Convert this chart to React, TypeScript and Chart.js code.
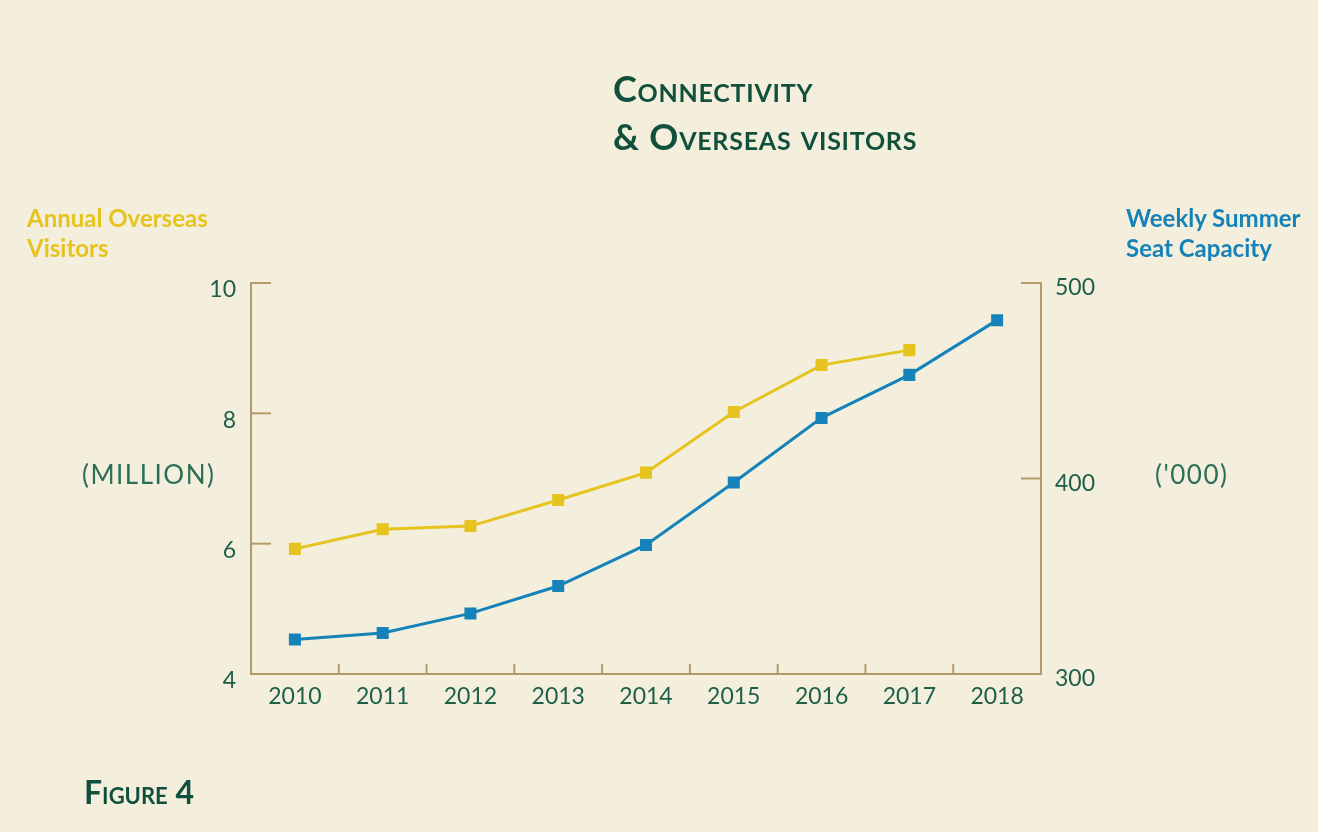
import React, { useEffect, useRef } from "react";
import { Chart, registerables } from "chart.js";

Chart.register(...registerables);

const years = ["2010", "2011", "2012", "2013", "2014", "2015", "2016", "2017", "2018"];
const overseasVisitors = [5.92, 6.22, 6.27, 6.67, 7.09, 8.02, 8.74, 8.97, null];
const seatCapacity = [317.6, 321, 331, 345, 366, 398, 431, 453, 481];
const leftTickValues = [4, 6, 8, 10];
const rightTickValues = [300, 400, 500];

const BG = "#f4efdc";
const AXIS = "#b39a6b";
const TEXT = "#1d5e49";
const YELLOW = "#e6c31e";
const BLUE = "#1582ba";

const innerTicks = {
  id: "innerTicks",
  beforeDatasetsDraw(chart: any) {
    const { ctx, chartArea, scales } = chart;
    const { left, right, bottom } = chartArea;
    ctx.save();
    ctx.strokeStyle = AXIS;
    ctx.lineWidth = 2;
    ctx.lineCap = "butt";
    const seg = (x1: number, y1: number, x2: number, y2: number) => {
      ctx.beginPath();
      ctx.moveTo(x1, y1);
      ctx.lineTo(x2, y2);
      ctx.stroke();
    };
    scales.y.ticks.forEach((t: any) => {
      const p = scales.y.getPixelForValue(t.value);
      seg(left, p, left + 20, p);
    });
    scales.y1.ticks.forEach((t: any) => {
      const p = scales.y1.getPixelForValue(t.value);
      seg(right - 20, p, right, p);
    });
    const xs = scales.x;
    for (let i = 1; i < years.length; i++) {
      const x = (xs.getPixelForValue(i - 1) + xs.getPixelForValue(i)) / 2;
      seg(x, bottom, x, bottom - 10);
    }
    ctx.restore();
  },
};

export default function App() {
  const ref = useRef<HTMLCanvasElement | null>(null);

  useEffect(() => {
    if (!ref.current) return;
    const tickFont = { family: "Lato", size: 23 };
    const chart = new Chart(ref.current, {
      type: "line",
      data: {
        labels: years,
        datasets: [
          {
            label: "Annual Overseas Visitors",
            data: overseasVisitors,
            yAxisID: "y",
            borderColor: YELLOW,
            backgroundColor: YELLOW,
            borderWidth: 3,
            pointStyle: "rect",
            pointRadius: 8.5,
            pointBorderWidth: 0,
            tension: 0,
            spanGaps: false,
          },
          {
            label: "Weekly Summer Seat Capacity",
            data: seatCapacity,
            yAxisID: "y1",
            borderColor: BLUE,
            backgroundColor: BLUE,
            borderWidth: 3,
            pointStyle: "rect",
            pointRadius: 8.5,
            pointBorderWidth: 0,
            tension: 0,
          },
        ],
      },
      options: {
        animation: false,
        responsive: false,
        layout: { padding: { top: 283, left: 0, right: 0, bottom: 0 } },
        plugins: { legend: { display: false }, tooltip: { enabled: false }, title: { display: false } },
        scales: {
          x: {
            type: "category",
            offset: true,
            grid: { display: false, drawTicks: false },
            border: { display: true, color: AXIS, width: 2 },
            ticks: { color: TEXT, font: tickFont, padding: 9, maxRotation: 0, autoSkip: false },
            afterFit: (s: any) => { s.height = 832 - 674; },
          },
          y: {
            position: "left",
            min: 4,
            max: 10,
            afterBuildTicks: (s: any) => { s.ticks = leftTickValues.map((v) => ({ value: v })); },
            grid: { display: false, drawTicks: false },
            border: { display: true, color: AXIS, width: 2 },
            ticks: { color: TEXT, font: tickFont, padding: 15, labelOffset: 7 },
            afterFit: (s: any) => { s.width = 251; },
          },
          y1: {
            position: "right",
            min: 300,
            max: 500,
            afterBuildTicks: (s: any) => { s.ticks = rightTickValues.map((v) => ({ value: v })); },
            grid: { display: false, drawTicks: false },
            border: { display: true, color: AXIS, width: 2 },
            ticks: { color: TEXT, font: tickFont, padding: 14, labelOffset: 5 },
            afterFit: (s: any) => { s.width = 1318 - 1041; },
          },
        },
      } as any,
      plugins: [innerTicks],
    });
    return () => chart.destroy();
  }, []);

  const abs = (x: number, y: number): React.CSSProperties => ({ position: "absolute", left: x, top: y, whiteSpace: "nowrap", fontFamily: "Lato, sans-serif" });

  return (
    <div style={{ position: "absolute", left: 0, top: 0, width: 1318, height: 832, background: BG, overflow: "hidden" }}>
      <canvas ref={ref} width={1318} height={832} style={{ position: "absolute", left: 0, top: 0, width: 1318, height: 832 }} />
      <div style={{ ...abs(613, 64), fontSize: 36, fontWeight: 700, fontVariant: "small-caps", color: "#11503c", lineHeight: "48px", letterSpacing: "0.75px" }}>
        <div>Connectivity</div>
        <div>&amp; Overseas visitors</div>
      </div>
      <div style={{ ...abs(27, 203), fontSize: 24, fontWeight: 700, color: YELLOW, lineHeight: "30px" }}>
        <div>Annual Overseas</div>
        <div>Visitors</div>
      </div>
      <div style={{ ...abs(1126, 203), fontSize: 24, fontWeight: 700, color: BLUE, lineHeight: "30px" }}>
        <div>Weekly Summer</div>
        <div>Seat Capacity</div>
      </div>
      <div style={{ ...abs(82, 458), fontSize: 26, color: "#2c6e58", lineHeight: "32px", letterSpacing: "1.5px" }}>(MILLION)</div>
      <div style={{ ...abs(1155, 458), fontSize: 26, color: "#2c6e58", lineHeight: "32px", letterSpacing: "1.5px" }}>('000)</div>
      <div style={{ ...abs(84, 773), fontSize: 32, fontWeight: 700, fontVariant: "small-caps", color: "#11503c", lineHeight: "38px" }}>Figure 4</div>
    </div>
  );
}
